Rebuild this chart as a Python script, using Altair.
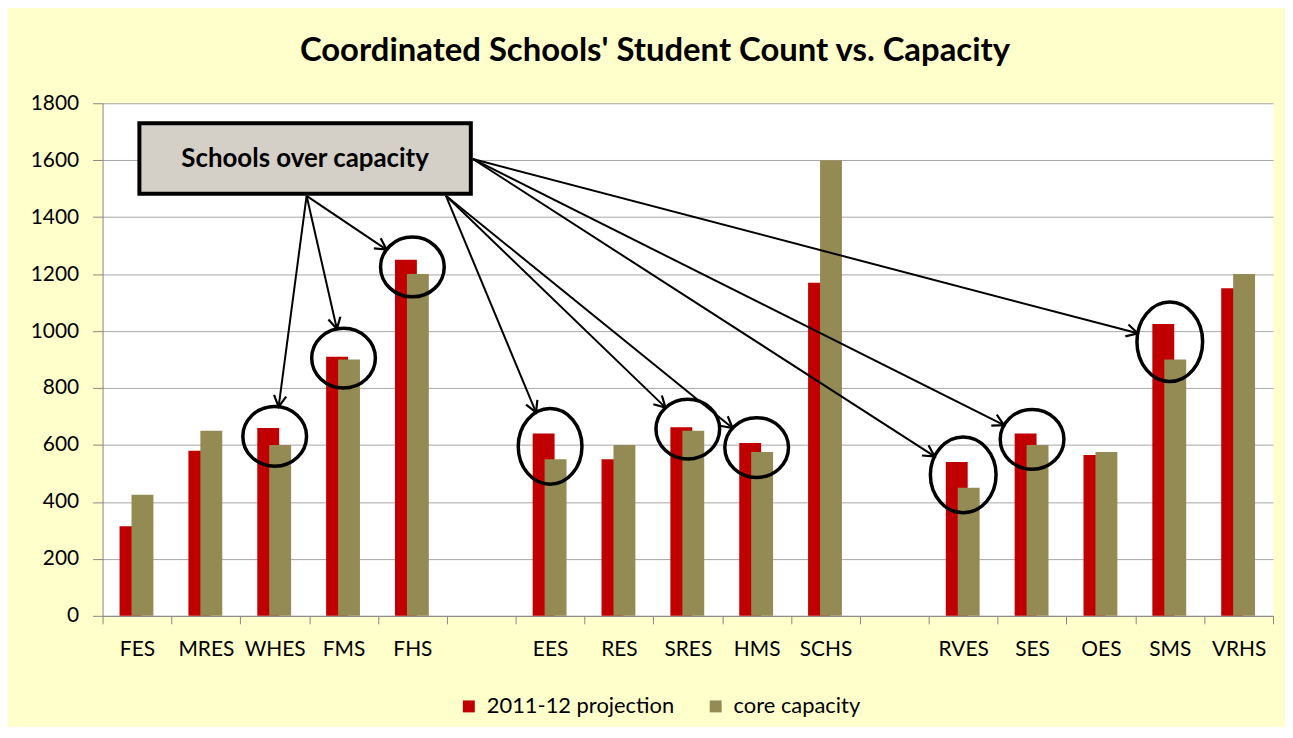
import math
import altair as alt
import pandas as pd

# ---------------- data ----------------
schools = ["FES", "MRES", "WHES", "FMS", "FHS", " ",
           "EES", "RES", "SRES", "HMS", "SCHS", "  ",
           "RVES", "SES", "OES", "SMS", "VRHS"]
projection = [315, 580, 660, 910, 1250, None,
              640, 550, 662, 607, 1170, None,
              540, 640, 565, 1025, 1150]
capacity = [425, 650, 600, 900, 1200, None,
            550, 600, 650, 575, 1600, None,
            450, 600, 575, 900, 1200]
series_names = ["2011-12 projection", "core capacity"]
y_ticks = [0, 200, 400, 600, 800, 1000, 1200, 1400, 1600, 1800]
over_capacity = ["WHES", "FMS", "FHS", "EES", "SRES", "HMS", "RVES", "SES", "SMS"]
callout_text = "Schools over capacity"
title_text = "Coordinated Schools' Student Count vs. Capacity"

# ---------------- styles / layout ----------------
RED = "#C00000"
OLIVE = "#948A54"
BG = "#FFFFCC"
FONT = "Lato"
W, H = 1176, 515
YMAX = 1800
BAND = W / len(schools)

# ellipse half-axes (px) of each callout ring
ring_rx = {"WHES": 32, "FMS": 32, "FHS": 32, "EES": 32, "SRES": 32, "HMS": 32,
           "RVES": 33, "SES": 32, "SMS": 33}
ring_ry = {"WHES": 30, "FMS": 30, "FHS": 30, "EES": 38, "SRES": 30, "HMS": 30,
           "RVES": 38, "SES": 30, "SMS": 40}
# callout box (plot pixel coords) and arrow anchors on it
BOX = (37, 20, 370, 91)
anchor_of = {"WHES": (205, 93), "FMS": (205, 93), "FHS": (205, 93),
             "EES": (345, 93), "SRES": (345, 93), "HMS": (345, 93),
             "RVES": (372, 56), "SES": (372, 56), "SMS": (372, 56)}

# ---------------- tables ----------------
rows = []
for s, p, c in zip(schools, projection, capacity):
    if p is not None:
        rows.append({"school": s, "series": series_names[0], "value": p})
    if c is not None:
        rows.append({"school": s, "series": series_names[1], "value": c})
bars_df = pd.DataFrame(rows)

ring_rows, arrow_rows = [], []
for s in over_capacity:
    i = schools.index(s)
    mid = (projection[i] + capacity[i]) / 2
    rx, ry = ring_rx[s], ring_ry[s]
    k = ry / rx
    path = f"M-1,0A1,{k:.3f},0,1,1,1,0A1,{k:.3f},0,1,1,-1,0Z"
    ring_rows.append({"school": s, "mid": mid, "path": path, "size": (2 * rx) ** 2})
    # arrow from anchor to ellipse boundary
    cx = BAND * (i + 0.5)
    cy = H * (1 - mid / YMAX)
    ax, ay = anchor_of[s]
    dx, dy = cx - ax, cy - ay
    n = math.hypot(dx, dy)
    ux, uy = dx / n, dy / n
    t = 1 / math.sqrt((ux / rx) ** 2 + (uy / ry) ** 2)
    tx, ty = cx - ux * t, cy - uy * t
    ang = math.degrees(math.atan2(ux, -uy)) % 360
    arrow_rows.append({"x0": ax, "y0": ay, "x1": tx, "y1": ty, "angle": ang})
rings_df = pd.DataFrame(ring_rows)
arrows_df = pd.DataFrame(arrow_rows)

# ---------------- encodings ----------------
x_enc = alt.X("school:N", sort=schools,
              scale=alt.Scale(domain=schools, paddingInner=0, paddingOuter=0),
              axis=alt.Axis(title=None, labelAngle=0, tickBand="extent", tickSize=8,
                            labelPadding=15, grid=False, labelOverlap=False))
y_axis = alt.Axis(title=None, values=y_ticks, tickSize=10, labelPadding=14, grid=True,
                  format="d")
color_enc = alt.Color("series:N",
                      scale=alt.Scale(domain=series_names, range=[RED, OLIVE]),
                      legend=alt.Legend(title=None, orient="none", legendX=357, legendY=595,
                                        direction="horizontal", symbolType="square",
                                        symbolSize=144, symbolStrokeWidth=0,
                                        labelFont=FONT, labelFontSize=22, labelColor="#000000",
                                        labelLimit=0, columnPadding=30, labelOffset=7))

red_bars = alt.Chart(bars_df).transform_filter(
    alt.datum.series == series_names[0]
).mark_bar(width=22, xOffset=-6.5).encode(
    x=x_enc,
    y=alt.Y("value:Q", scale=alt.Scale(domain=[0, YMAX], nice=False), axis=y_axis),
    color=color_enc,
)
olive_bars = alt.Chart(bars_df).transform_filter(
    alt.datum.series == series_names[1]
).mark_bar(width=22, xOffset=5.5).encode(
    x=x_enc,
    y=alt.Y("value:Q", scale=alt.Scale(domain=[0, YMAX], nice=False), axis=y_axis),
    color=color_enc,
)
rings = alt.Chart(rings_df).mark_point(filled=False, stroke="black", strokeWidth=3.5,
                                       opacity=1).encode(
    x=x_enc,
    y=alt.Y("mid:Q", scale=alt.Scale(domain=[0, YMAX], nice=False), axis=y_axis),
    shape=alt.Shape("path:N", scale=None),
    size=alt.Size("size:Q", scale=None),
)
data_layer = alt.layer(red_bars, olive_bars, rings)

ARROW_HEAD = "M-0.55,1L0,0L0.55,1"
lines = alt.Chart(arrows_df).mark_rule(stroke="black", strokeWidth=2).encode(
    x=alt.X("x0:Q", scale=None, axis=None),
    y=alt.Y("y0:Q", scale=None, axis=None),
    x2="x1:Q", y2="y1:Q",
)
heads = alt.Chart(arrows_df).mark_point(shape=ARROW_HEAD, size=500, filled=False,
                                        stroke="black", strokeWidth=2.2, opacity=1).encode(
    x=alt.X("x1:Q", scale=None, axis=None),
    y=alt.Y("y1:Q", scale=None, axis=None),
    angle=alt.Angle("angle:Q", scale=None),
)
box_df = pd.DataFrame({"t": [callout_text]})
box = alt.Chart(box_df).mark_rect(fill="#D4D0C8", stroke="black", strokeWidth=4).encode(
    x=alt.value(BOX[0]), x2=alt.value(BOX[2]), y=alt.value(BOX[1]), y2=alt.value(BOX[3]),
)
box_text = alt.Chart(box_df).mark_text(font=FONT, fontSize=26, fontWeight="bold",
                                       color="#000000", baseline="middle").encode(
    x=alt.value((BOX[0] + BOX[2]) / 2), y=alt.value((BOX[1] + BOX[3]) / 2 + 1),
    text="t:N",
)
annot_layer = alt.layer(lines, heads, box, box_text)

chart = alt.layer(data_layer, annot_layer).resolve_scale(
    x="independent", y="independent"
).properties(
    width=W, height=H,
    title=alt.TitleParams(title_text, font=FONT, fontSize=33, fontWeight="bold",
                          color="#000000", anchor="middle", dx=-33, offset=24),
    autosize=alt.AutoSizeParams(type="none"),
    padding={"left": 95, "top": 94, "right": 12, "bottom": 110},
    background=BG,
).configure_view(
    fill="white", stroke="transparent"
).configure_axis(
    labelFont=FONT, labelFontSize=21, labelColor="#000000",
    domainColor="#868686", tickColor="#868686", gridColor="#A6A6A6",
)

chart.save("out.html", embed_options={"renderer": "svg", "actions": False})
